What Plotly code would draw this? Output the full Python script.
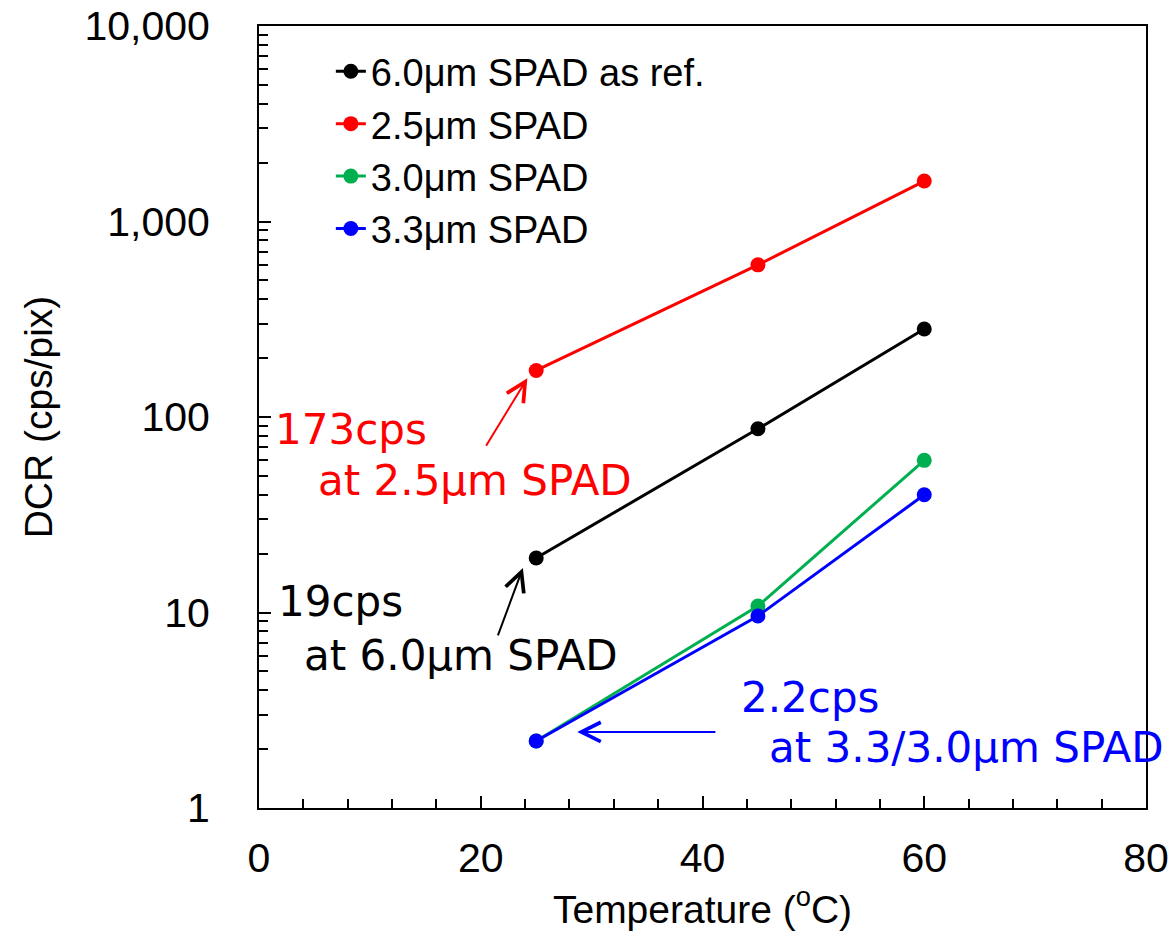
import math
import plotly.graph_objects as go

# ---- data ----
temperature = [25, 45, 60]
dcr_6_0um = [19, 87, 282]
dcr_2_5um = [173, 600, 1610]
dcr_3_0um = [2.2, 10.8, 60]
dcr_3_3um = [2.2, 9.6, 40]

series_names = ["6.0μm SPAD as ref.", "2.5μm SPAD", "3.0μm SPAD", "3.3μm SPAD"]
series_colors = ["#000000", "#FF0000", "#00B050", "#0000FF"]
series_values = [dcr_6_0um, dcr_2_5um, dcr_3_0um, dcr_3_3um]

y_tickvals = [1, 10, 100, 1000, 10000]
y_ticktext = ["1", "10", "100", "1,000", "10,000"]
x_tickvals = [0, 20, 40, 60, 80]

LEG_FONT = "Liberation Sans, Arial, sans-serif"
ANN_FONT = "DejaVu Sans, Verdana, sans-serif"

fig = go.Figure()
for name, color, vals in zip(series_names, series_colors, series_values):
    fig.add_trace(go.Scatter(
        x=temperature, y=vals, name=name, mode="lines+markers",
        line=dict(color=color, width=3),
        marker=dict(color=color, size=15),
    ))

L = math.log10
annotations = []
# text labels (x in data, y in log10 units)
texts = [
    ("173cps", 1.3, L(86), "#FF0000"),
    ("at 2.5μm SPAD", 5.1, L(47.5), "#FF0000"),
    ("19cps", 1.5, L(11.4), "#000000"),
    ("at 6.0μm SPAD", 3.9, L(6.0), "#000000"),
    ("2.2cps", 43.3, L(3.66), "#0000FF"),
    ("at 3.3/3.0μm SPAD", 45.8, L(2.03), "#0000FF"),
]
for t, x, y, c in texts:
    annotations.append(dict(text=t, x=x, y=y, xref="x", yref="y", xanchor="left",
                            yanchor="middle", showarrow=False,
                            font=dict(family=ANN_FONT, size=42, color=c)))
# arrows: head (x,y) <- tail (ax,ay)
arrows = [
    (24.2, L(158), 20.4, L(70), "#FF0000"),
    (23.8, L(16.9), 21.5, L(7.5), "#000000"),
    (28.7, L(2.45), 41.3, L(2.45), "#0000FF"),
]
for x, y, ax, ay, c in arrows:
    annotations.append(dict(text="", x=x, y=y, ax=ax, ay=ay, xref="x", yref="y",
                            axref="x", ayref="y", showarrow=True, arrowhead=5,
                            arrowsize=1.9, arrowwidth=2, arrowcolor=c, standoff=0,
                            startstandoff=0))

fig.update_layout(
    width=1175, height=939,
    margin=dict(l=259, r=29, t=26, b=131),
    paper_bgcolor="white", plot_bgcolor="white",
    font=dict(family=LEG_FONT, size=40, color="black"),
    showlegend=True,
    legend=dict(x=0.081, y=0.982, xanchor="left", yanchor="top",
                bgcolor="rgba(0,0,0,0)", font=dict(family=LEG_FONT, size=38),
                tracegroupgap=0),
    annotations=annotations,
)
fig.update_xaxes(
    range=[0, 80], tickvals=x_tickvals, showline=True, linecolor="black",
    linewidth=2, mirror=True, ticks="inside", ticklen=12, tickwidth=2,
    tickcolor="black", showgrid=False, zeroline=False, automargin=False,
    tickfont=dict(family=LEG_FONT, size=41),
    ticklabelstandoff=13,
    minor=dict(dtick=4, tick0=0, ticks="inside", ticklen=9, tickwidth=2,
               tickcolor="black", showgrid=False),
    title=dict(text="Temperature (<sup>o</sup>C)",
               font=dict(family=LEG_FONT, size=39), standoff=0),
)
fig.update_yaxes(
    type="log", range=[0, 4], tickvals=y_tickvals, ticktext=y_ticktext,
    showline=True, linecolor="black", linewidth=2, mirror=True,
    ticks="inside", ticklen=12, tickwidth=2, tickcolor="black",
    showgrid=False, zeroline=False, automargin=False,
    tickfont=dict(family=LEG_FONT, size=41),
    ticklabelstandoff=39,
    minor=dict(dtick="D1", ticks="inside", ticklen=9, tickwidth=2,
               tickcolor="black", showgrid=False),
    title=dict(text="DCR (cps/pix)", font=dict(family=LEG_FONT, size=39),
               standoff=20),
)
fig.write_html("out.html", config={"displayModeBar": False},
               post_script="document.body.style.margin='0px';document.body.style.overflow='hidden';")
